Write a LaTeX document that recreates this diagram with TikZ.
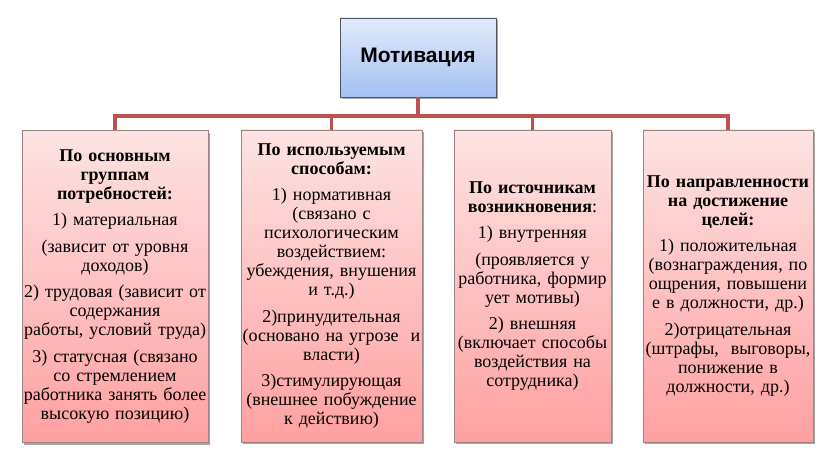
\documentclass[tikz,border=0pt]{standalone}
\usepackage{fontspec}
\setmainfont{Liberation Serif}
\newfontfamily\titlefont{Liberation Sans}
\usetikzlibrary{shadows}
\definecolor{conncol}{HTML}{C0504D}
\definecolor{pinktop}{HTML}{FDE3E3}
\definecolor{pinkbot}{HTML}{FFA0A0}
\definecolor{pinkborder}{HTML}{9A8585}
\definecolor{bluetop}{HTML}{E3EBFA}
\definecolor{bluebot}{HTML}{A3C0F2}
\definecolor{blueborder}{HTML}{50555F}
\begin{document}
\begin{tikzpicture}[x=1pt,y=-1pt,
  catbox/.style={draw=pinkborder, line width=0.6pt, top color=pinktop, bottom color=pinkbot,
    inner sep=0pt, minimum height=312pt, align=center,
    font=\fontsize{18}{19}\selectfont,
    drop shadow={shadow xshift=1.8pt, shadow yshift=-2.4pt, fill=black, opacity=0.35}},
  topbox/.style={draw=blueborder, line width=0.8pt, top color=bluetop, bottom color=bluebot,
    inner sep=0pt, minimum width=156pt, minimum height=79pt, align=center,
    font=\titlefont\bfseries\fontsize{21}{25}\selectfont,
    drop shadow={shadow xshift=1.8pt, shadow yshift=-2.4pt, fill=black, opacity=0.35}},
  connline/.style={draw=conncol, line width=3.2pt}]
\useasboundingbox (0,0) rectangle (825,457);

\node[topbox] (top) at (418,57.5) {Мотивация};

\node[catbox, text width=186pt] (b1) at (115,286.5) {%
\textbf{По основным}\\ \textbf{группам}\\ \textbf{потребностей:}\\[7.5pt]
1) материальная\\[7.5pt]
(зависит от уровня\\ доходов)\\[7.5pt]
2) трудовая (зависит от\\ содержания\\ работы, условий труда)\\[7.5pt]
3) статусная (связано\\ со стремлением\\ работника занять более\\ высокую позицию)};

\node[catbox, text width=181pt] (b2) at (331.5,286) {%
\textbf{По используемым}\\ \textbf{способам:}\\[7.5pt]
1) нормативная\\ (связано с\\ психологическим\\ воздействием:\\ убеждения, внушения\\ и т.д.)\\[7.5pt]
2)принудительная\\ (основано на угрозе\ \ и\\ власти)\\[7.5pt]
3)стимулирующая\\ (внешнее побуждение\\ к действию)};

\node[catbox, text width=157pt] (b3) at (532.5,286) {%
\textbf{По источникам}\\ \textbf{возникновения}:\\[7.5pt]
1) внутренняя\\[7.5pt]
(проявляется у\\ работника, формир\\ ует мотивы)\\[7.5pt]
2) внешняя\\ (включает способы\\ воздействия на\\ сотрудника)};

\node[catbox, text width=170pt] (b4) at (728,286) {%
\textbf{По направленности}\\ \textbf{на достижение}\\ \textbf{целей:}\\[7.5pt]
1) положительная\\ (вознаграждения, по\\ ощрения, повышени\\ е в должности, др.)\\[7.5pt]
2)отрицательная\\ (штрафы,\ \ выговоры,\\ понижение в\\ должности, др.)};

\coordinate (j) at (418,116);
\draw[connline] (top.south) -- (j);
\draw[connline] (b1.north) |- (j) -| (b4.north);
\draw[connline] (j) -| (b2.north);
\draw[connline] (j) -| (b3.north);
\end{tikzpicture}
\end{document}
